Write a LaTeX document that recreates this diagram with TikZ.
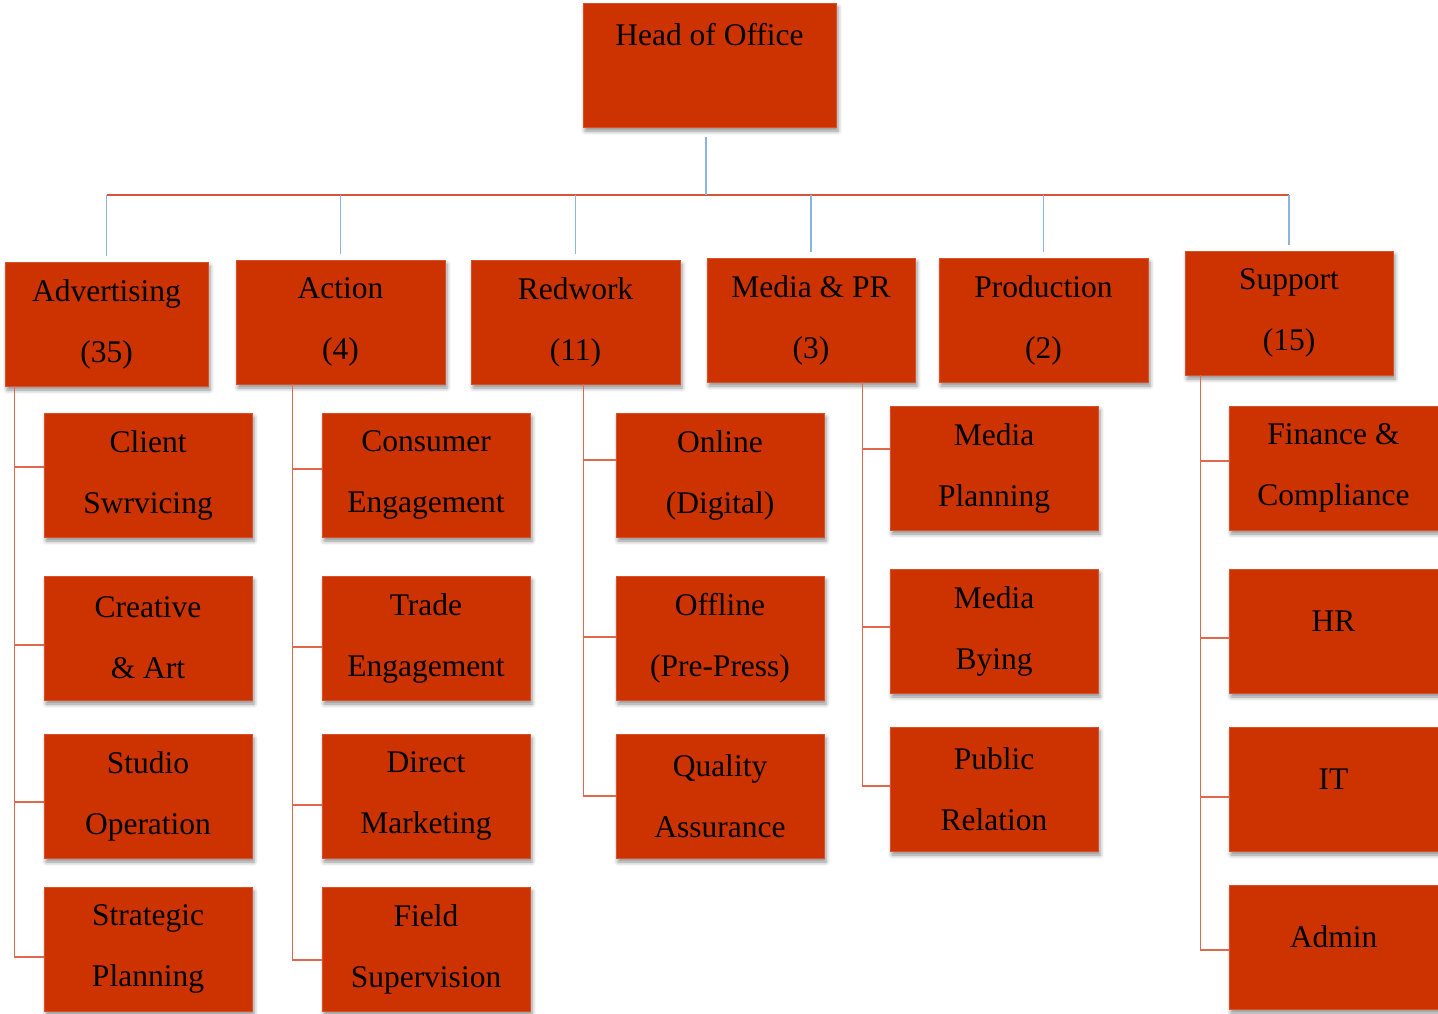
\documentclass[tikz,border=0pt]{standalone}
\usepackage{fontspec}
\setmainfont{Liberation Serif}
\usetikzlibrary{shadows.blur}
\definecolor{boxred}{HTML}{CC3300}
\definecolor{boxedge}{HTML}{D9512A}
\definecolor{busred}{HTML}{D2573A}
\definecolor{branchred}{HTML}{E0694C}
\definecolor{droblue}{HTML}{8DB3E2}
\tikzset{
  box/.style={rectangle, fill=boxred, draw=boxedge, line width=0.6pt,
    minimum height=124pt, minimum width=208pt, align=center, text=black, inner sep=0pt,
    font=\fontsize{31.5}{61}\selectfont,
    blur shadow={shadow xshift=2pt, shadow yshift=-4pt, shadow blur radius=4pt, shadow opacity=45}},
  busline/.style={draw=busred, line width=1.3pt},
  blueline/.style={draw=droblue, line width=1.6pt},
  branch/.style={draw=branchred, line width=1.3pt}
}
\begin{document}
\begin{tikzpicture}[x=1pt,y=-1pt]
\useasboundingbox (0,0) rectangle (1438,1013);
% top
\node[box, minimum width=253pt] (head) at (709.5,65) {Head of Office\\\mbox{}};
% departments
\node[box, minimum width=203pt] (adv) at (106.5,324) {Advertising\\(35)};
\node[box, minimum width=209pt] (act) at (340.5,322) {Action\\(4)};
\node[box, minimum width=209pt] (red) at (575.5,322) {Redwork\\(11)};
\node[box] (med) at (811,320) {Media \& PR\\(3)};
\node[box, minimum width=209pt] (prod) at (1043.5,320) {Production\\(2)};
\node[box] (sup) at (1289,313) {Support\\(15)};
% advertising
\node[box] (a1) at (148,475) {Client\\Swrvicing};
\node[box] (a2) at (148,638) {Creative\\\& Art};
\node[box] (a3) at (148,796) {Studio\\Operation};
\node[box] (a4) at (148,949) {Strategic\\Planning};
% action
\node[box] (b1) at (426,475) {Consumer\\Engagement};
\node[box] (b2) at (426,638) {Trade\\Engagement};
\node[box] (b3) at (426,796) {Direct\\Marketing};
\node[box] (b4) at (426,949) {Field\\Supervision};
% redwork
\node[box] (c1) at (720,475) {Online\\(Digital)};
\node[box] (c2) at (720,638) {Offline\\(Pre-Press)};
\node[box] (c3) at (720,796) {Quality\\Assurance};
% media
\node[box] (d1) at (994,468) {Media\\Planning};
\node[box] (d2) at (994,631) {Media\\Bying};
\node[box] (d3) at (994,789) {Public\\Relation};
% support
\node[box, minimum width=209pt] (e1) at (1333.5,468) {Finance \&\\Compliance};
\node[box, minimum width=209pt] (e2) at (1333.5,631) {\raisebox{20pt}{HR}};
\node[box, minimum width=209pt] (e3) at (1333.5,789) {\raisebox{20pt}{IT}};
\node[box, minimum width=209pt] (e4) at (1333.5,947) {\raisebox{20pt}{Admin}};
% connectors
\coordinate (bus) at (706,195);
\draw[busline] (adv.north |- bus) -- (sup.north |- bus);
\draw[blueline] ([xshift=-3.5pt,yshift=-10pt]head.south) -- ([xshift=-3.5pt]head.south |- bus);
\foreach \n in {adv,act,red,med,prod,sup}
  \draw[blueline] (\n.north |- bus) -- ([yshift=6pt]\n.north);
\coordinate (advb) at ([xshift=10pt]adv.south west);
\coordinate (actb) at ([xshift=57pt]act.south west);
\coordinate (redb) at ([xshift=113pt]red.south west);
\coordinate (medb) at ([xshift=156pt]med.south west);
\coordinate (supb) at ([xshift=16pt]sup.south west);
% tick points on the child boxes' left sides
\foreach \c/\d in {a1/8,a2/-7,a3/-6,a4/-8,b1/6,b2/-9,b3/-9,b4/-11,
                   c1/15,c2/1,c3/0,d1/19,d2/4,d3/3,e1/7,e2/-7,e3/-8,e4/-3}
  \coordinate (t\c) at ([yshift=\d pt]\c.west);
\draw[branch] (advb) |- (ta4);
\foreach \c in {a1,a2,a3} \draw[branch] (advb |- t\c) -- (t\c);
\draw[branch] (actb) |- (tb4);
\foreach \c in {b1,b2,b3} \draw[branch] (actb |- t\c) -- (t\c);
\draw[branch] (redb) |- (tc3);
\foreach \c in {c1,c2} \draw[branch] (redb |- t\c) -- (t\c);
\draw[branch] (medb) |- (td3);
\foreach \c in {d1,d2} \draw[branch] (medb |- t\c) -- (t\c);
\draw[branch] (supb) |- (te4);
\foreach \c in {e1,e2,e3} \draw[branch] (supb |- t\c) -- (t\c);
\end{tikzpicture}
\end{document}
